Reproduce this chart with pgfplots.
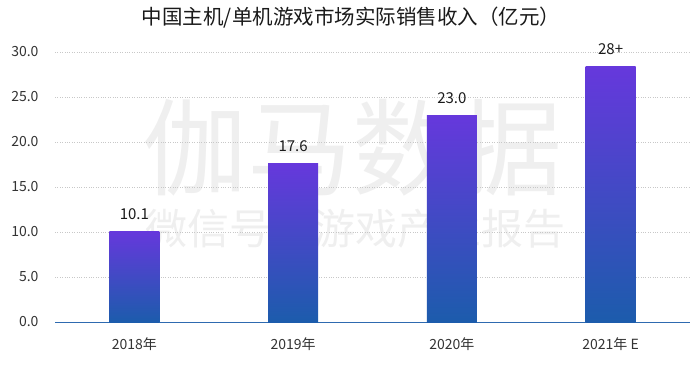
\documentclass[border=0pt]{standalone}
\usepackage{fontspec}
\setmainfont{Noto Sans CJK SC}
\usepackage{pgfplots}
\pgfplotsset{compat=1.18}
\usepackage{pgfplotstable}
\definecolor{txt}{HTML}{333333}
\definecolor{titlec}{HTML}{1A1A1A}
\definecolor{wm}{HTML}{EFEFEF}
\definecolor{gridc}{HTML}{C8C8C8}
\definecolor{axisblue}{HTML}{2E6AB0}
\definecolor{bartop}{HTML}{6638DC}
\definecolor{barbot}{HTML}{1C5CAC}
\pgfplotstableread{
x y lab
0 10.1 10.1
}\dA
\pgfplotstableread{
x y lab
1 17.6 17.6
}\dB
\pgfplotstableread{
x y lab
2 23.0 23.0
}\dC
\pgfplotstableread{
x y lab
3 28.4 28+
}\dD
\begin{document}
\begin{tikzpicture}
\useasboundingbox (0,0) rectangle (700pt,368pt);
\node[font=\fontsize{105}{105}\selectfont, text=wm] at (352pt,220pt) {伽马数据};
\node[font=\fontsize{42}{42}\selectfont, text=wm] at (355pt,139pt) {微信号：游戏产业报告};
\node[font=\fontsize{20.5}{24}\selectfont, text=titlec] at (351pt,350pt) {中国主机/单机游戏市场实际销售收入（亿元）};
\begin{axis}[
  at={(55pt,46pt)}, anchor=south west,
  scale only axis, width=635pt, height=270pt,
  xmin=-0.5, xmax=3.5, ymin=0, ymax=30,
  ytick={0,5,...,30},
  xtick={0,1,2,3},
  xticklabels={2018年,2019年,2020年,2021年 E},
  /pgf/number format/assume math mode=true,
  /pgf/number format/.cd, fixed, fixed zerofill, precision=1, /pgfplots/.cd,
  axis x line=bottom, axis y line=left,
  x axis line style={draw=axisblue, line width=0.9pt, -},
  y axis line style={draw=none},
  major tick length=0pt,
  tick style={draw=none},
  ymajorgrids,
  grid style={gridc, dotted, line width=0.6pt},
  ticklabel style={font=\fontsize{14}{16}\selectfont, text=txt},
  yticklabel style={xshift=-13pt},
  xticklabel style={yshift=-12pt},
  ybar, bar width=50pt, bar shift=0pt,
  nodes near coords,
  point meta=explicit symbolic,
  nodes near coords style={font=\fontsize{15}{17}\selectfont, text=titlec, yshift=8pt},
  clip=false,
]
\addplot[draw=none, top color=bartop, bottom color=barbot] table[x=x, y=y, meta=lab] {\dA};
\addplot[draw=none, top color=bartop, bottom color=barbot] table[x=x, y=y, meta=lab] {\dB};
\addplot[draw=none, top color=bartop, bottom color=barbot] table[x=x, y=y, meta=lab] {\dC};
\addplot[draw=none, top color=bartop, bottom color=barbot] table[x=x, y=y, meta=lab] {\dD};
\end{axis}
\end{tikzpicture}
\end{document}
